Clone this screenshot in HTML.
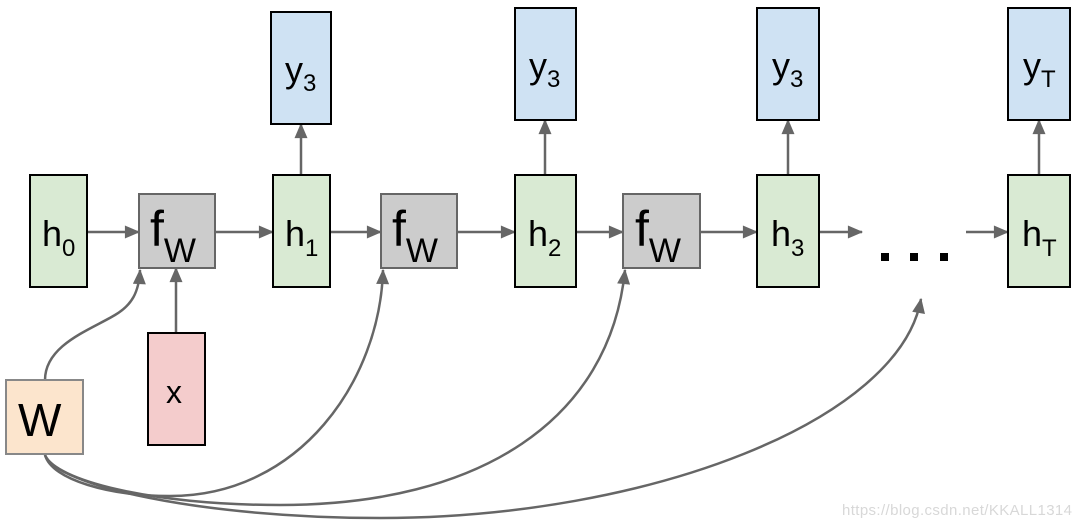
<!DOCTYPE html>
<html><head><meta charset="utf-8"><style>
html,body{margin:0;padding:0;background:#fff;}
svg{display:block;}
text{font-family:"Liberation Sans",sans-serif;fill:#000;}
</style></head><body>
<svg width="1082" height="526" viewBox="0 0 1082 526" xmlns="http://www.w3.org/2000/svg">
<defs>
<marker id="a" viewBox="0 0 14 12" refX="13" refY="6" markerWidth="16" markerHeight="13" markerUnits="userSpaceOnUse" orient="auto">
<path d="M0,0 L14,6 L0,12 z" fill="#666"/></marker>
</defs>
<g stroke="#666" stroke-width="2.5" fill="none" marker-end="url(#a)">
<line x1="87" y1="232" x2="139" y2="232"/>
<line x1="215" y1="232" x2="273" y2="232"/>
<line x1="330" y1="232" x2="381" y2="232"/>
<line x1="457" y1="232" x2="515" y2="232"/>
<line x1="576" y1="232" x2="623" y2="232"/>
<line x1="700" y1="232" x2="757" y2="232"/>
<line x1="819" y1="232" x2="862" y2="232"/>
<line x1="966" y1="232" x2="1008" y2="232"/>
<line x1="301" y1="175" x2="301" y2="124"/>
<line x1="545" y1="175" x2="545" y2="120"/>
<line x1="788" y1="175" x2="788" y2="120"/>
<line x1="1039" y1="175" x2="1039" y2="120"/>
<line x1="176" y1="333" x2="176" y2="268"/>
<path d="M45,380 C45,345 90,330 115,315 C132,305 139,292 140,270"/>
<path d="M45,455 C52,480 110,496 170,496 C300,496 380,380 383,270"/>
<path d="M45,455 C55,480 150,505 280,505 C480,505 610,420 625,270"/>
<path d="M45,455 C55,485 200,518 380,518 C650,518 900,420 921,299"/>
</g>
<g stroke="#000" stroke-width="2">
<rect x="30" y="175" width="57" height="112" fill="#d9ead3"/>
<rect x="273" y="175" width="57" height="112" fill="#d9ead3"/>
<rect x="515" y="175" width="61" height="112" fill="#d9ead3"/>
<rect x="757" y="175" width="62" height="112" fill="#d9ead3"/>
<rect x="1008" y="175" width="62" height="112" fill="#d9ead3"/>
<rect x="271" y="12" width="60" height="112" fill="#cfe2f3"/>
<rect x="515" y="8" width="61" height="112" fill="#cfe2f3"/>
<rect x="757" y="8" width="62" height="112" fill="#cfe2f3"/>
<rect x="1008" y="8" width="62" height="112" fill="#cfe2f3"/>
<rect x="148" y="333" width="57" height="112" fill="#f4cccc"/>
</g>
<g stroke="#666" stroke-width="2">
<rect x="139" y="194" width="76" height="74" fill="#cccccc"/>
<rect x="381" y="194" width="76" height="74" fill="#cccccc"/>
<rect x="623" y="194" width="77" height="74" fill="#cccccc"/>
<rect x="6" y="380" width="77" height="74" fill="#fce5cd" stroke="#888"/>
</g>
<g font-size="36">
<text x="42" y="246">h<tspan font-size="24" dy="10">0</tspan></text>
<text x="285" y="246">h<tspan font-size="24" dy="10">1</tspan></text>
<text x="528" y="246">h<tspan font-size="24" dy="10">2</tspan></text>
<text x="771" y="246">h<tspan font-size="24" dy="10">3</tspan></text>
<text x="1022" y="246">h<tspan font-size="24" dy="10">T</tspan></text>
<text x="285" y="82">y<tspan font-size="24" dy="9">3</tspan></text>
<text x="529" y="78">y<tspan font-size="24" dy="9">3</tspan></text>
<text x="772" y="78">y<tspan font-size="24" dy="9">3</tspan></text>
<text x="1023" y="78">y<tspan font-size="24" dy="9">T</tspan></text>
<text x="166" y="403" font-size="32">x</text>
<text x="18" y="436" font-size="46">W</text>
</g>
<g font-size="50">
<text x="150" y="246">f<tspan font-size="34" dy="16">W</tspan></text>
<text x="392" y="246">f<tspan font-size="34" dy="16">W</tspan></text>
<text x="635" y="246">f<tspan font-size="34" dy="16">W</tspan></text>
</g>
<g fill="#000">
<rect x="881" y="253" width="8" height="8"/>
<rect x="910" y="253" width="8" height="8"/>
<rect x="940" y="253" width="8" height="8"/>
</g>
<text x="842" y="515" font-size="15" textLength="230" style="fill:#d8d8d8">https://blog.csdn.net/KKALL1314</text>
</svg>
</body></html>
